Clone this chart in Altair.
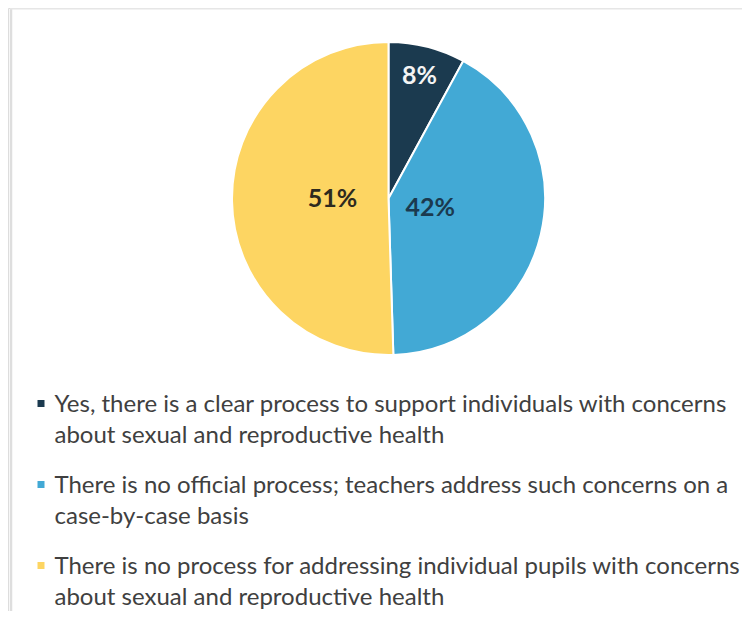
import altair as alt
import pandas as pd

# ---- data ----
categories = [
    "Yes, there is a clear process to support individuals with concerns about sexual and reproductive health",
    "There is no official process; teachers address such concerns on a case-by-case basis",
    "There is no process for addressing individual pupils with concerns about sexual and reproductive health",
]
legend_lines = [
    ["Yes, there is a clear process to support individuals with concerns",
     "about sexual and reproductive health"],
    ["There is no official process; teachers address such concerns on a",
     "case-by-case basis"],
    ["There is no process for addressing individual pupils with concerns",
     "about sexual and reproductive health"],
]
values = [8, 42, 51]

# ---- styles ----
slice_colors = ["#1b3a4f", "#42a9d5", "#fdd562"]
label_colors = ["#f4f4f4", "#1b3a4f", "#2e2a1e"]
label_radii = [126, 43, 56]

W, H = 734, 603
CX, CY = 380.5, 190.5
R = 156.5

pie_df = pd.DataFrame({
    "idx": list(range(len(values))),
    "category": categories,
    "value": values,
    "label": [f"{v}%" for v in values],
})

leg_rows = []
for i, lines in enumerate(legend_lines):
    for j, t in enumerate(lines):
        leg_rows.append({"idx": i, "line": j, "category": categories[i], "text": t})
leg_df = pd.DataFrame(leg_rows)

color_scale = alt.Scale(domain=categories, range=slice_colors)

arcs = alt.Chart(pie_df).mark_arc(radius=R, stroke="white", strokeWidth=2).encode(
    theta=alt.Theta("value:Q", stack=True),
    color=alt.Color("category:N", scale=color_scale, legend=None),
    order=alt.Order("idx:Q"),
    x=alt.value(CX),
    y=alt.value(CY),
)

def label_layer(i):
    return (
        alt.Chart(pie_df)
        .transform_window(cum="sum(value)", sort=[alt.SortField("idx")], frame=[None, 0])
        .transform_joinaggregate(total="sum(value)")
        .transform_calculate(mid="(datum.cum - datum.value / 2) / datum.total * 2 * PI")
        .transform_filter(alt.datum.idx == i)
        .mark_text(radius=label_radii[i], font="Lato", fontWeight="bold", fontSize=25,
                   color=label_colors[i], align="center", baseline="middle")
        .encode(
            theta=alt.Theta("mid:Q", scale=None, stack=False),
            text="label:N",
            x=alt.value(CX),
            y=alt.value(CY),
        )
    )

line_unit = 30.5
row_step = 81.0 / line_unit
yscale = alt.Scale(domain=[0, 1], range=[404, 404 + line_unit], zero=False, nice=False)

leg_base = alt.Chart(leg_df).transform_calculate(
    slot=f"datum.idx * {row_step} + datum.line"
)

leg_text = leg_base.mark_text(
    align="left", baseline="alphabetic", font="Lato", fontSize=24, color="#404040"
).encode(
    x=alt.value(46.5),
    y=alt.Y("slot:Q", scale=yscale, axis=None),
    text="text:N",
)

leg_sym = leg_base.transform_filter(alt.datum.line == 0).mark_square(
    size=49, opacity=1, yOffset=-8.5
).encode(
    x=alt.value(33),
    y=alt.Y("slot:Q", scale=yscale, axis=None),
    color=alt.Color("category:N", scale=color_scale, legend=None),
)

frame_v = alt.Chart(alt.Data(values=[{}])).mark_rule(color="#dedede", strokeWidth=2.5).encode(
    x=alt.value(3), y=alt.value(0), y2=alt.value(H)
)
frame_h = alt.Chart(alt.Data(values=[{}])).mark_rule(color="#e6e6e6", strokeWidth=1.5).encode(
    x=alt.value(2), x2=alt.value(W), y=alt.value(0.75)
)

chart = alt.layer(
    frame_v, frame_h, arcs, label_layer(0), label_layer(1), label_layer(2), leg_sym, leg_text
).properties(
    width=W, height=H, padding=0, autosize=alt.AutoSizeParams(type="none")
).configure_view(stroke=None).configure(background="white")

chart.save("out.html", embed_options={"renderer": "svg", "actions": False})
